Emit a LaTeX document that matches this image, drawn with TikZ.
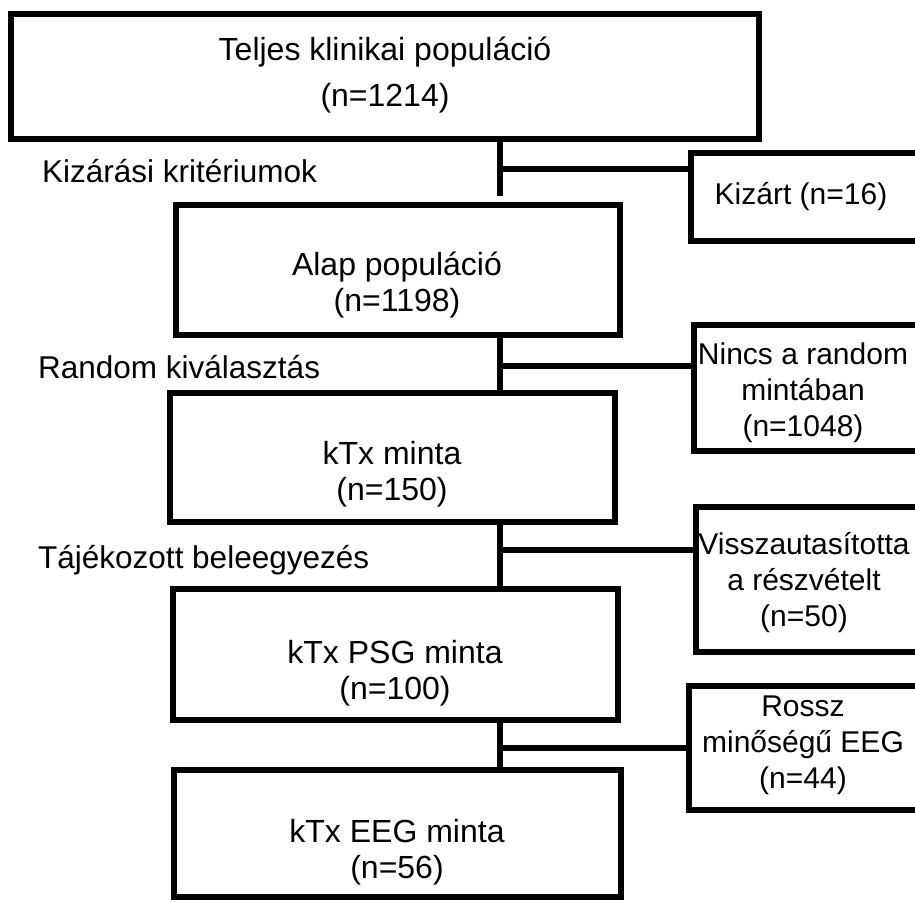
\documentclass[tikz,border=0pt]{standalone}
\usepackage{fontspec}
\setmainfont{Liberation Sans}
\begin{document}
\begin{tikzpicture}[x=1pt,y=-1pt,
  box/.style={draw, line width=6pt, rectangle, inner sep=0pt},
  main/.style={font=\fontsize{32}{36}\selectfont, align=center, inner sep=0pt},
  side/.style={font=\fontsize{30}{36}\selectfont, align=center, inner sep=0pt},
  lab/.style={font=\fontsize{31.5}{37}\selectfont, anchor=base west, inner sep=0pt},
  conn/.style={line width=6pt}]
\useasboundingbox (0,0) rectangle (915,902);
\clip (0,0) rectangle (915,902);
% main boxes
\node[box, minimum width=748pt, minimum height=125pt] (b1) at (385,76) {};
\node[box, minimum width=444pt, minimum height=130pt] (b2) at (397.5,270) {};
\node[box, minimum width=445pt, minimum height=129pt] (b3) at (392.5,457) {};
\node[box, minimum width=445pt, minimum height=131pt] (b4) at (395.5,654) {};
\node[box, minimum width=447pt, minimum height=127pt] (b5) at (397.5,833.5) {};
% side boxes
\node[box, minimum width=239pt, minimum height=88pt] (r1) at (810.5,196.5) {};
\node[box, minimum width=236pt, minimum height=126pt] (r2) at (812,388) {};
\node[box, minimum width=234pt, minimum height=145pt] (r3) at (813,579.5) {};
\node[box, minimum width=241pt, minimum height=124pt] (r4) at (809.5,747.5) {};
% texts
\node[main, font=\fontsize{32}{46}\selectfont] (t1) at (385,75) {Teljes klinikai populáció\\(n=1214)};
\node[main] (t2) at (397,285) {Alap populáció\\(n=1198)};
\node[main] (t3) at (392,474) {kTx minta\\(n=150)};
\node[main] (t4) at (395,673.5) {kTx PSG minta\\(n=100)};
\node[main] (t5) at (397,852) {kTx EEG minta\\(n=56)};
\node[side] (s1) at (801,197) {Kizárt (n=16)};
\node[side] (s2) at (803,393) {Nincs a random\\mintában\\(n=1048)};
\node[side] (s3) at (804,583) {Visszautasította\\a részvételt\\(n=50)};
\node[side] (s4) at (803,745) {Rossz\\minőségű EEG\\(n=44)};
% step labels
\node[lab] (l1) at (42,182) {Kizárási kritériumok};
\node[lab] (l2) at (38,378) {Random kiválasztás};
\node[lab] (l3) at (38,568) {Tájékozott beleegyezés};
% connectors
\coordinate (j1) at (500,169);
\coordinate (e1) at (500,196);
\coordinate (j2) at (500,366);
\coordinate (j3) at (503,550);
\coordinate (j4) at (500,748);
\draw[conn] (b1.south -| e1) -- (e1);
\draw[conn] (j1) -- (j1 -| r1.west);
\draw[conn] (b2.south -| j2) -- (b3.north -| j2);
\draw[conn] (j2) -- (j2 -| r2.west);
\draw[conn] (b3.south -| j4) -- (b4.north -| j4);
\draw[conn] (j3) -- (j3 -| r3.west);
\draw[conn] (b4.south -| j4) -- (b5.north -| j4);
\draw[conn] (j4) -- (j4 -| r4.west);
\end{tikzpicture}
\end{document}
